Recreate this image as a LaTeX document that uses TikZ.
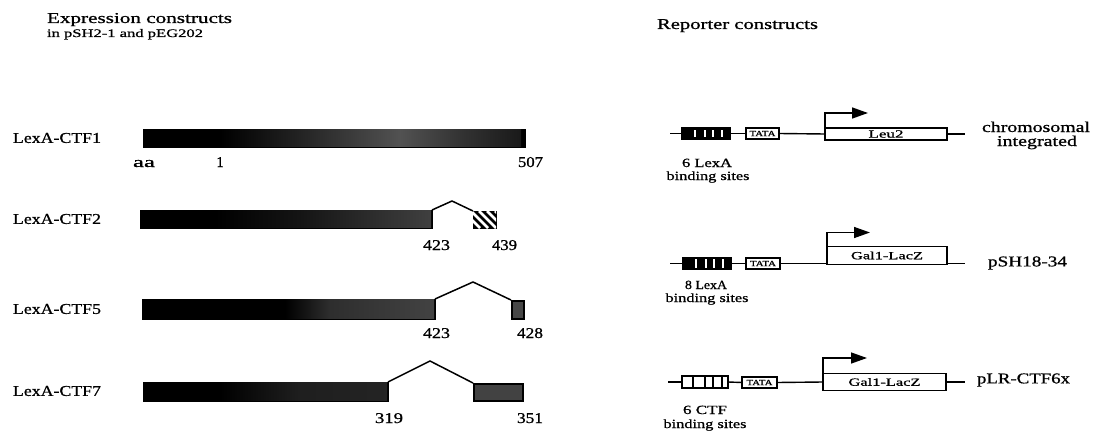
\documentclass[tikz,border=0pt]{standalone}
\usepackage{fontspec}
\setmainfont{Liberation Serif}[FakeBold=0.8]
\usetikzlibrary{arrows.meta}
\newcommand\fitw[3]{\resizebox{#1pt}{\height}{\fontsize{#2}{#2}\selectfont #3}}
\begin{document}
\begin{tikzpicture}[x=1pt,y=-1pt,
  lbl/.style={inner sep=0pt,outer sep=0pt},
  bar/.style={fill=black,draw=black,line width=0.6pt,inner sep=0pt,outer sep=0pt,anchor=north west},
  splice/.style={line width=1.5pt,line join=miter},
  ln/.style={line width=1.4pt},
  sitebox/.style={draw=black,line width=1.6pt,inner sep=0pt,outer sep=0pt,anchor=north west},
  tatabox/.style={draw=black,line width=1.1pt,fill=white,inner sep=0pt,outer sep=0pt,anchor=north west},
  genebox/.style={draw=black,line width=1.3pt,fill=white,inner sep=0pt,outer sep=0pt,anchor=north west},
  prom/.style={line width=1.4pt,-{Triangle[length=16pt,width=11pt]}},
  slit/.style={fill=white,draw=none},
  ]
\useasboundingbox (0,0) rectangle (1097,433);

% ---------- titles ----------
\node[lbl,anchor=base west] (t1) at (47,23) {\fitw{185}{15}{Expression constructs}};
\node[lbl,anchor=base west] (t2) at (47,37) {\fitw{156}{11.5}{in pSH2-1 and pEG202}};
\node[lbl,anchor=base west] (t3) at (657,29) {\fitw{161}{15}{Reporter constructs}};

% ---------- LexA-CTF1 ----------
\node[lbl,anchor=west] (l1) at (13,138) {\fitw{88}{15}{LexA-CTF1}};
\node[bar,minimum width=382pt,minimum height=18pt] (b1) at (143,129) {};
\shade[left color=black,right color=black!88] (220,129.5) rectangle (290,146.5);
\shade[left color=black!88,right color=black!68] (290,129.5) rectangle (400,146.5);
\shade[left color=black!68,right color=black!80] (400,129.5) rectangle (460,146.5);
\shade[left color=black!80,right color=black!90] (460,129.5) rectangle (521,146.5);
\node[lbl,anchor=base west] (n1a) at (133,167) {\fitw{22}{15}{aa}};
\node[lbl,anchor=base] (n1b) at (220,167) {\fontsize{15}{15}\selectfont 1};
\node[lbl,anchor=base west] (n1c) at (518,167) {\fitw{25}{15}{507}};

% ---------- LexA-CTF2 ----------
\node[lbl,anchor=west] (l2) at (13,219) {\fitw{88}{15}{LexA-CTF2}};
\node[bar,minimum width=292pt,minimum height=18pt] (b2) at (140,210) {};
\shade[left color=black,right color=black!92] (215,210.5) rectangle (300,227.5);
\shade[left color=black!92,right color=black!75] (300,210.5) rectangle (431,227.5);
\node[bar,minimum width=23pt,minimum height=17pt] (c2) at (473,211) {};
\begin{scope}
  \clip (473,211) rectangle (496,228);
  \foreach \d in {-10,-2,6,14,22} {
    \draw[white,line width=2.6pt] (473+\d,211) -- (473+\d+17,228);
  }
\end{scope}
\coordinate (p2) at (452,201);
\draw[splice] (b2.north east) -- (p2) -- (c2.north west);
\node[lbl,anchor=base west] (n2a) at (423,250) {\fitw{27}{15}{423}};
\node[lbl,anchor=base west] (n2b) at (492,250) {\fitw{25}{15}{439}};

% ---------- LexA-CTF5 ----------
\node[lbl,anchor=west] (l5) at (13,309) {\fitw{88}{15}{LexA-CTF5}};
\node[bar,minimum width=293pt,minimum height=20pt] (b5) at (142,299) {};
\shade[left color=black,right color=black!82] (285,299.5) rectangle (330,318.5);
\shade[left color=black!82,right color=black!74] (330,299.5) rectangle (434,318.5);
\node[bar,minimum width=13pt,minimum height=19pt] (c5) at (511,300) {};
\fill[black!72] (512.5,301.5) rectangle (522.5,317.5);
\coordinate (p5) at (473,282);
\draw[splice] (b5.north east) -- (p5) -- (c5.north west);
\node[lbl,anchor=base west] (n5a) at (423,338) {\fitw{27}{15}{423}};
\node[lbl,anchor=base west] (n5b) at (517,338) {\fitw{26}{15}{428}};

% ---------- LexA-CTF7 ----------
\node[lbl,anchor=west] (l7) at (13,391) {\fitw{88}{15}{LexA-CTF7}};
\node[bar,minimum width=245pt,minimum height=19pt] (b7) at (143,382) {};
\shade[left color=black,right color=black!88] (220,382.5) rectangle (300,400.5);
\shade[left color=black!88,right color=black!86] (300,382.5) rectangle (387,400.5);
\node[bar,minimum width=50pt,minimum height=18pt] (c7) at (473,383) {};
\fill[black!74] (474.5,384.5) rectangle (521.5,399.5);
\coordinate (p7) at (430,361);
\draw[splice] (b7.north east) -- (p7) -- (c7.north west);
\node[lbl,anchor=base west] (n7a) at (375,423) {\fitw{28}{15}{319}};
\node[lbl,anchor=base west] (n7b) at (517,423) {\fitw{26}{15}{351}};

% ---------- Reporter 1 ----------
\coordinate (s1) at (670,133.5);
\node[sitebox,fill=black,minimum width=48pt,minimum height=11pt] (x1) at (682,128) {};
\foreach \u in {695,705,713,722} \fill[slit] (\u-1.2,129.6) rectangle (\u+1.2,137.4);
\node[tatabox,minimum width=33pt,minimum height=11pt] (ta1) at (746,128) {\fitw{26}{8}{TATA}};
\node[genebox,minimum width=122pt,minimum height=12pt] (g1) at (825,128) {\fitw{35}{11}{Leu2}};
\coordinate (e1) at (965,134);
\draw[ln] (s1) -- (x1.west);
\draw[ln] (x1.east) -- (ta1.west);
\draw[ln] (ta1.east) -- (g1.west);
\draw[ln] (g1.east) -- (e1);
\draw[prom] (g1.north west) -- ++(0,-15) -- ++(43,0);
\node[lbl,anchor=base] (r1a) at (707,167) {\fitw{50}{12.5}{6 LexA}};
\node[lbl,anchor=base] (r1b) at (708,180) {\fitw{83}{12.5}{binding sites}};
\node[lbl,anchor=base] (r1c) at (1036,132) {\fitw{108}{15}{chromosomal}};
\node[lbl,anchor=base] (r1d) at (1037,146) {\fitw{80}{15}{integrated}};

% ---------- Reporter 2 ----------
\coordinate (s2) at (670,263.5);
\node[sitebox,fill=black,minimum width=48pt,minimum height=12pt] (x2) at (683,257.5) {};
\foreach \u in {696,706,714,723} \fill[slit] (\u-1.2,259.2) rectangle (\u+1.2,267.8);
\node[tatabox,minimum width=34pt,minimum height=11pt] (ta2) at (746,258) {\fitw{26}{8}{TATA}};
\node[genebox,minimum width=120pt,minimum height=18pt] (g2) at (827,246.5) {\fitw{72}{11}{Gal1-LacZ}};
\coordinate (gl2) at (g2.south west |- s2);
\coordinate (e2) at (965,263.5);
\coordinate (ge2) at (g2.south east |- s2);
\draw[ln] (s2) -- (x2.west);
\draw[ln] (x2.east) -- (ta2.west);
\draw[ln] (ta2.east) -- (gl2);
\draw[ln] (ge2) -- (e2);
\draw[prom] (g2.north west) -- ++(0,-14) -- ++(43,0);
\node[lbl,anchor=base] (r2a) at (706,289) {\fitw{42}{12.5}{8 LexA}};
\node[lbl,anchor=base] (r2b) at (707,302) {\fitw{83}{12.5}{binding sites}};
\node[lbl,anchor=west] (r2c) at (988,263) {\fitw{79}{15}{pSH18-34}};

% ---------- Reporter 3 ----------
\coordinate (s3) at (668,382);
\node[sitebox,fill=white,minimum width=46pt,minimum height=12pt] (x3) at (682,376) {};
\foreach \u in {693,705,713,722} \draw[line width=1.3pt] (\u,376) -- (\u,388);
\node[tatabox,minimum width=35pt,minimum height=11pt] (ta3) at (742,377) {\fitw{26}{8}{TATA}};
\node[genebox,minimum width=123pt,minimum height=17pt] (g3) at (823,373.5) {\fitw{72}{11}{Gal1-LacZ}};
\coordinate (e3) at (965,382);
\draw[ln] (s3) -- (x3.west);
\draw[ln] (x3.east) -- (ta3.west);
\draw[ln] (ta3.east) -- (g3.west);
\draw[ln] (g3.east) -- (e3);
\draw[prom] (g3.north west) -- ++(0,-15.5) -- ++(44,0);
\node[lbl,anchor=base] (r3a) at (705,414) {\fitw{44}{12.5}{6 CTF}};
\node[lbl,anchor=base] (r3b) at (705,428) {\fitw{83}{12.5}{binding sites}};
\node[lbl,anchor=west] (r3c) at (977,380) {\fitw{93}{15}{pLR-CTF6x}};
\end{tikzpicture}
\end{document}
